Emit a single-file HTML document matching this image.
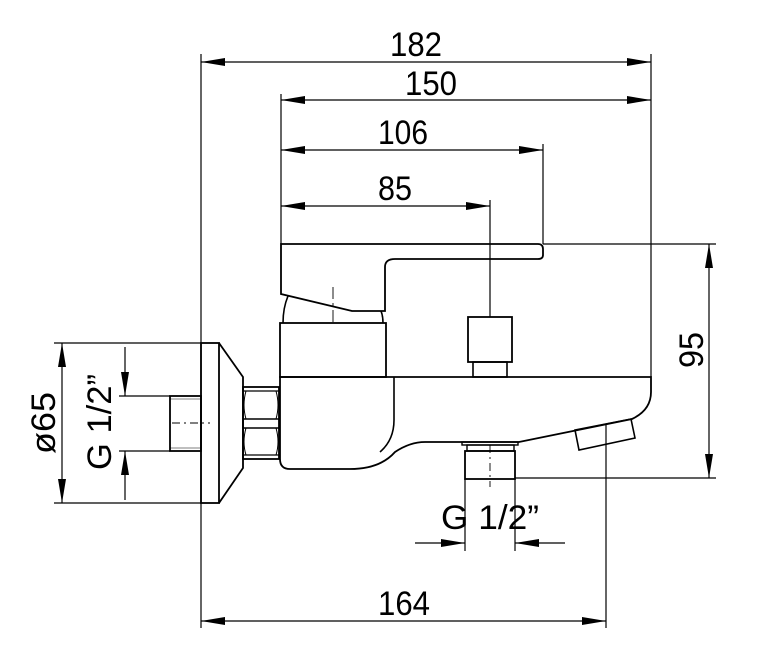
<!DOCTYPE html>
<html><head><style>html,body{margin:0;padding:0;background:#fff}svg{display:block}
text{font-family:"Liberation Sans",sans-serif;fill:#000}</style></head><body>
<svg width="780" height="653" viewBox="0 0 780 653" xmlns="http://www.w3.org/2000/svg">
<defs>
<marker id="a" viewBox="0 0 24 8" refX="24" refY="4" markerWidth="24" markerHeight="8" markerUnits="userSpaceOnUse" orient="auto-start-reverse"><path d="M0,0 L24,4 L0,8Z" fill="#000"/></marker>
</defs>
<g stroke="#000" fill="none" stroke-width="1.2">
<!-- extension lines -->
<line x1="201" y1="54" x2="201" y2="628"/>
<line x1="651" y1="54" x2="651" y2="377"/>
<line x1="281" y1="94" x2="281" y2="244"/>
<line x1="543" y1="144" x2="543" y2="244"/>
<line x1="490" y1="200" x2="490" y2="317"/>
<line x1="543" y1="244" x2="716" y2="244"/>
<line x1="515" y1="478" x2="716" y2="478"/>
<line x1="606" y1="425" x2="606" y2="628"/>
<line x1="465" y1="479" x2="465" y2="551"/>
<line x1="515" y1="479" x2="515" y2="551"/>
<line x1="54" y1="343" x2="201" y2="343"/>
<line x1="54" y1="503" x2="201" y2="503"/>
<line x1="119" y1="396" x2="170" y2="396"/>
<line x1="119" y1="451" x2="170" y2="451"/>
<!-- dimension lines -->
<line x1="201" y1="62" x2="651" y2="62" marker-start="url(#a)" marker-end="url(#a)"/>
<line x1="281" y1="100" x2="651" y2="100" marker-start="url(#a)" marker-end="url(#a)"/>
<line x1="281" y1="150" x2="543" y2="150" marker-start="url(#a)" marker-end="url(#a)"/>
<line x1="281" y1="206" x2="490" y2="206" marker-start="url(#a)" marker-end="url(#a)"/>
<line x1="201" y1="621" x2="606" y2="621" marker-start="url(#a)" marker-end="url(#a)"/>
<line x1="709" y1="244" x2="709" y2="478" marker-start="url(#a)" marker-end="url(#a)"/>
<line x1="62" y1="343" x2="62" y2="503" marker-start="url(#a)" marker-end="url(#a)"/>
<line x1="125" y1="347" x2="125" y2="396" marker-end="url(#a)"/>
<line x1="125" y1="500" x2="125" y2="451" marker-end="url(#a)"/>
<line x1="415" y1="543" x2="465" y2="543" marker-end="url(#a)"/>
<line x1="565" y1="543" x2="515" y2="543" marker-end="url(#a)"/>
<!-- handle -->
<path d="M281,244 H538 Q543,244 543,249 V255 Q543,259 538,259 H395 Q385,259 385,267 V311 H352 L281,294 Z" stroke-width="1.8"/>
<path d="M288,296 Q283,308 283,323" stroke-width="1.6"/>
<path d="M381,311 Q383,316 383,323" stroke-width="1.6"/>
<line x1="333" y1="287" x2="333" y2="322" stroke-dasharray="12,4,3,4" stroke-width="0.9"/>
<rect x="280" y="323" width="106" height="54" stroke-width="1.8"/>
<!-- body -->
<path d="M280,377 H651 V392 Q651,410 632,419 L519,442 H425 Q410,442 395,452 Q380,469 350,469 H290 Q280,469 280,459 Z" stroke-width="1.8"/>
<path d="M394,377 V420 Q394,440 380,452" stroke-width="1.6"/>
<!-- spout nozzle -->
<path d="M575,430 L631,419 L635,438 L579,450 Z" stroke-width="1.6"/>
<!-- top valve -->
<rect x="468" y="317" width="44" height="45" stroke-width="1.8"/>
<rect x="473" y="362" width="34" height="15" stroke-width="1.6"/>
<!-- bottom outlet -->
<rect x="462" y="442" width="56" height="3" stroke-width="1.4"/>
<rect x="467" y="445" width="47" height="6" stroke-width="1.4"/>
<rect x="465" y="451" width="50" height="28" stroke-width="1.8"/>
<line x1="490" y1="445" x2="490" y2="487" stroke-dasharray="8,4,2,4" stroke-width="0.9"/>
<!-- wall flange -->
<rect x="201" y="343" width="18" height="160" stroke-width="1.8"/>
<path d="M219,343 L243,377 V468 L219,503" stroke-width="1.8"/>
<rect x="243" y="387" width="36" height="72" stroke-width="1.8"/>
<line x1="243" y1="391" x2="279" y2="391"/>
<line x1="243" y1="419" x2="279" y2="419" stroke-width="1.6"/>
<line x1="243" y1="428" x2="279" y2="428" stroke-width="1.6"/>
<line x1="243" y1="455" x2="279" y2="455"/>
<path d="M246,391 Q242,405 246,419 M246,428 Q242,442 246,455 M276,391 Q280,405 276,419 M276,428 Q280,442 276,455" stroke-width="1"/>
<rect x="170" y="396" width="31" height="55" stroke-width="1.8"/>
<line x1="170" y1="399" x2="201" y2="399" stroke-width="0.6"/>
<line x1="170" y1="448" x2="201" y2="448" stroke-width="0.6"/>
<line x1="172" y1="423" x2="210" y2="423" stroke-dasharray="8,4,2,4" stroke-width="0.9"/>
</g>
<g font-size="34">
<text x="416" y="56" text-anchor="middle" textLength="52" lengthAdjust="spacingAndGlyphs">182</text>
<text x="431" y="95" text-anchor="middle" textLength="52" lengthAdjust="spacingAndGlyphs">150</text>
<text x="403" y="144" text-anchor="middle" textLength="50" lengthAdjust="spacingAndGlyphs">106</text>
<text x="395" y="200" text-anchor="middle" textLength="34" lengthAdjust="spacingAndGlyphs">85</text>
<text x="404" y="615" text-anchor="middle" textLength="52" lengthAdjust="spacingAndGlyphs">164</text>
<text x="441" y="529" textLength="98" lengthAdjust="spacingAndGlyphs">G 1/2”</text>
<text transform="translate(703,350) rotate(-90)" text-anchor="middle" textLength="36" lengthAdjust="spacingAndGlyphs">95</text>
<text transform="translate(55,423) rotate(-90)" text-anchor="middle" textLength="62" lengthAdjust="spacingAndGlyphs">ø65</text>
<text transform="translate(111,422) rotate(-90)" text-anchor="middle" textLength="96" lengthAdjust="spacingAndGlyphs">G 1/2”</text>
</g>
</svg>
</body></html>
